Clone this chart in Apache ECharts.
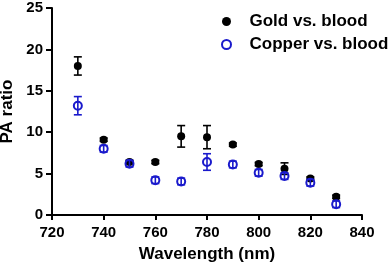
<!DOCTYPE html>
<html><head><meta charset="utf-8">
<script src="https://cdn.jsdelivr.net/npm/echarts@6/dist/echarts.min.js"></script>
<style>html,body{margin:0;padding:0;background:#fff}#c{width:392px;height:266px}</style>
</head><body><div id="c"></div>
<script>
const wavelengths = [730, 740, 750, 760, 770, 780, 790, 800, 810, 820, 830];
const goldMean = [18.0, 9.1, 6.4, 6.4, 9.5, 9.4, 8.5, 6.15, 5.6, 4.4, 2.2];
const goldErr  = [1.1, 0.2, 0.2, 0.2, 1.3, 1.4, 0.2, 0.2, 0.7, 0.2, 0.2];
const copperMean = [13.2, 8.0, 6.2, 4.2, 4.05, 6.4, 6.1, 5.1, 4.7, 3.9, 1.3];
const copperErr  = [1.1, 0.4, 0.4, 0.4, 0.4, 1.0, 0.4, 0.4, 0.4, 0.4, 0.4];
const xTicks = [720, 740, 760, 780, 800, 820, 840];
const yTicks = [0, 5, 10, 15, 20, 25];

const font = 'Liberation Sans, Arial, sans-serif';
function errData(m, e){ return wavelengths.map((w,i)=>[w, m[i]-e[i], m[i]+e[i]]); }
function errSeries(m, e, color, z){
  return {
    type:'custom', z:z, silent:true,
    data: errData(m,e),
    renderItem: function(params, api){
      const x = api.value(0);
      const lo = api.coord([x, api.value(1)]);
      const hi = api.coord([x, api.value(2)]);
      const w = 4;
      const st = {stroke: color, lineWidth: 1.6};
      return {type:'group', children:[
        {type:'line', shape:{x1:lo[0],y1:lo[1],x2:hi[0],y2:hi[1]}, style:st},
        {type:'line', shape:{x1:lo[0]-w,y1:lo[1],x2:lo[0]+w,y2:lo[1]}, style:st},
        {type:'line', shape:{x1:hi[0]-w,y1:hi[1],x2:hi[0]+w,y2:hi[1]}, style:st}
      ]};
    }
  };
}
const chart = echarts.init(document.getElementById('c'), null, {renderer:'canvas'});
chart.setOption({
  animation:false,
  backgroundColor:'#fff',
  grid:{left:52, right:30, top:8, bottom:51, containLabel:false, outerBoundsMode:'none'},
  legend:{
    left:221, top:13, padding:0, orient:'vertical', itemGap:6, itemWidth:36, itemHeight:9,
    textStyle:{fontFamily:font, fontWeight:'bold', fontSize:17, lineHeight:17, color:'#000'},
    data:[
      {name:'Gold vs. blood', icon:'circle', itemStyle:{color:'#000', borderWidth:0}},
      {name:'Copper vs. blood', icon:'circle', itemStyle:{color:'#fff', borderColor:'#1a1acc', borderWidth:2}}
    ]
  },
  xAxis:{
    type:'value', min:720, max:840, interval:20,
    name:'Wavelength (nm)', nameLocation:'middle', nameGap:31,
    nameTextStyle:{fontFamily:font, fontWeight:'bold', fontSize:17, color:'#000'},
    axisLine:{onZero:false, lineStyle:{color:'#000', width:2}},
    axisTick:{show:true, length:5, lineStyle:{color:'#000', width:2}},
    axisLabel:{fontFamily:font, fontWeight:'bold', fontSize:15, color:'#000', margin:10},
    splitLine:{show:false}
  },
  yAxis:{
    type:'value', min:0, max:25, interval:5,
    name:'PA ratio', nameLocation:'middle', nameGap:31,
    nameTextStyle:{fontFamily:font, fontWeight:'bold', fontSize:17, color:'#000'},
    axisLine:{show:true, lineStyle:{color:'#000', width:2}},
    axisTick:{show:true, length:6, lineStyle:{color:'#000', width:2}},
    axisLabel:{fontFamily:font, fontWeight:'bold', fontSize:15, color:'#000', margin:9},
    splitLine:{show:false}
  },
  series:[
    errSeries(goldMean, goldErr, '#000', 3),
    {name:'Gold vs. blood', type:'scatter', z:4, symbol:'circle', symbolSize:8,
      itemStyle:{color:'#000', opacity:1},
      data: wavelengths.map((w,i)=>[w, goldMean[i]])},
    errSeries(copperMean, copperErr, '#1a1acc', 5),
    {name:'Copper vs. blood', type:'scatter', z:6, symbol:'circle', symbolSize:8,
      itemStyle:{color:'rgba(255,255,255,0)', borderColor:'#1a1acc', borderWidth:2, opacity:1},
      data: wavelengths.map((w,i)=>[w, copperMean[i]])}
  ]
});
</script></body></html>
